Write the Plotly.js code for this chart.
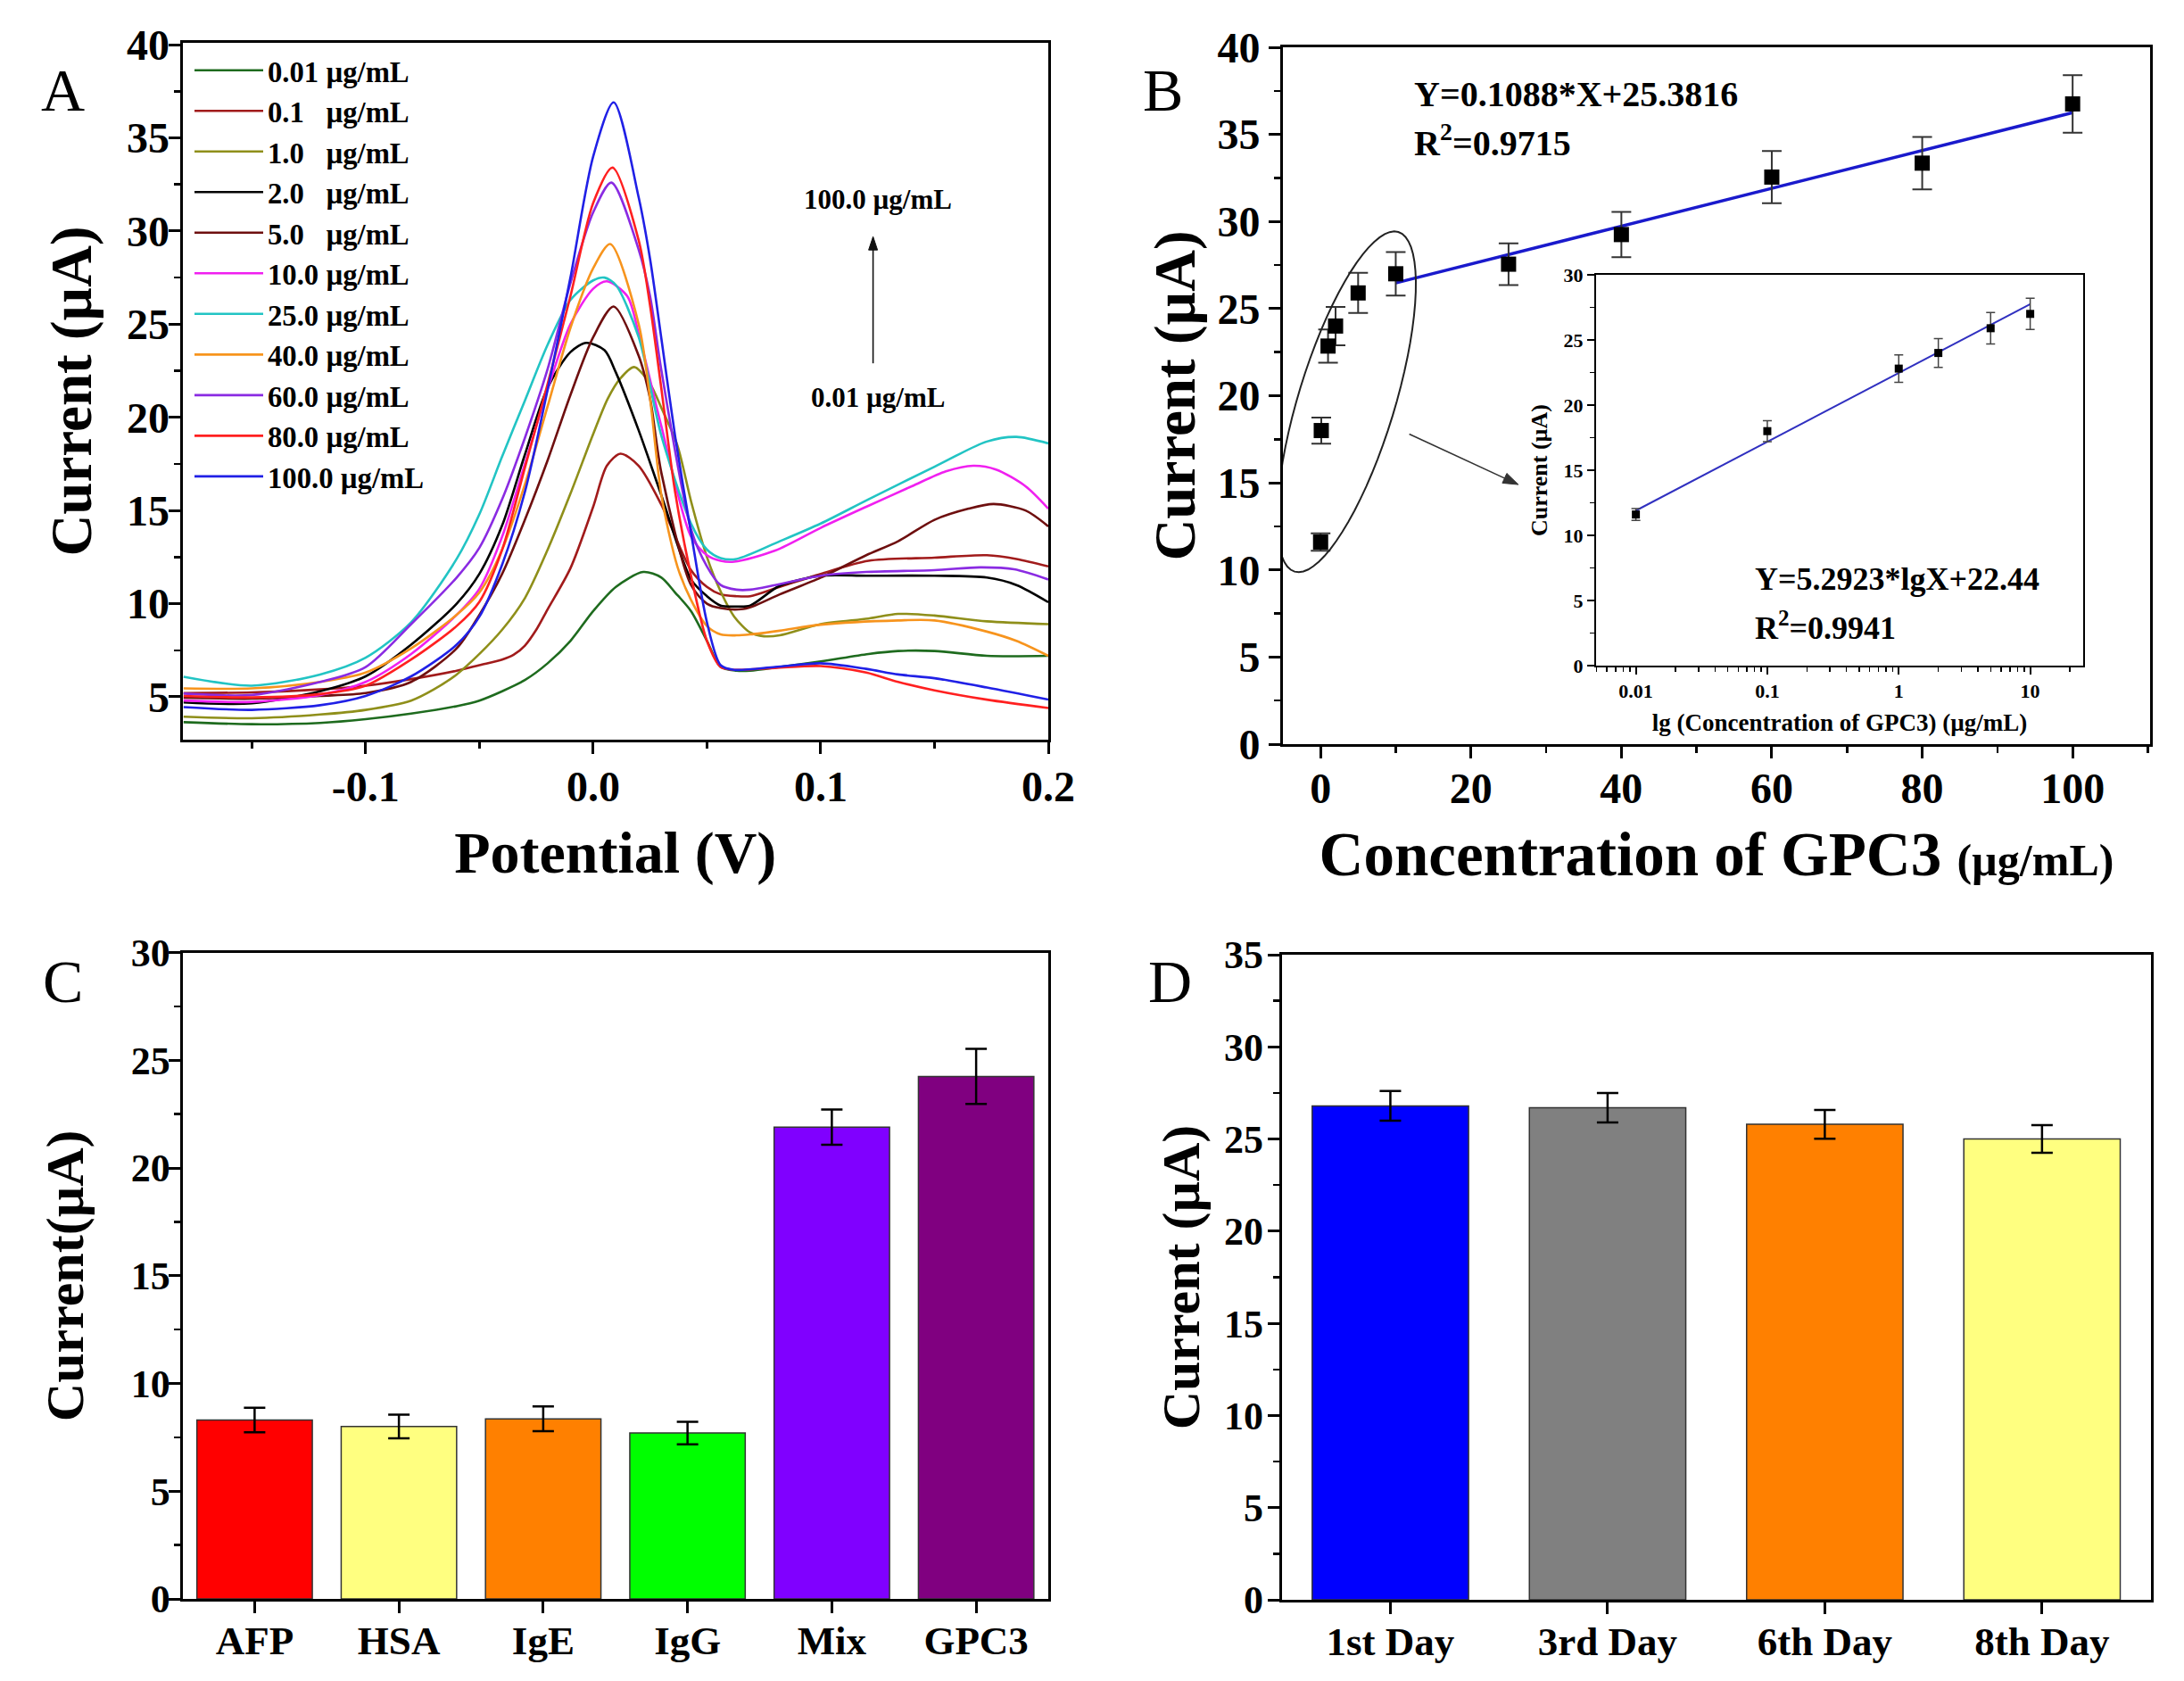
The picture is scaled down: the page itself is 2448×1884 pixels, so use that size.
<!DOCTYPE html>
<html><head><meta charset="utf-8">
<script src="https://cdn.plot.ly/plotly-3.0.1.min.js"></script>
<style>html,body{margin:0;padding:0;background:#fff}</style>
</head><body>
<div id="chart" style="width:2448px;height:1884px"></div>
<script>
// ================= Panel A: DPV curves =================
const labelsA = ["0.01 µg/mL", "0.1\u00a0\u00a0\u00a0µg/mL", "1.0\u00a0\u00a0\u00a0µg/mL", "2.0\u00a0\u00a0\u00a0µg/mL",
  "5.0\u00a0\u00a0\u00a0µg/mL", "10.0 µg/mL", "25.0 µg/mL", "40.0 µg/mL", "60.0 µg/mL", "80.0 µg/mL", "100.0 µg/mL"];
const colorsA = ["#1e6b1e", "#a11b1b", "#8f8f1a", "#000000", "#6e0f0f", "#f020f0", "#22c4c4", "#f7941d", "#8a2be2", "#ff2020", "#2020e6"];
const tickValsA = [-0.1, 0, 0.1, 0.2];
const tickTextA = ["-0.1", "0.0", "0.1", "0.2"];

const vA001 = [-0.18,-0.15,-0.12,-0.10,-0.08,-0.06,-0.05,-0.04,-0.03,-0.02,-0.01,0.0,0.01,0.022,0.03,0.036,0.043,0.05,0.056,0.063,0.069,0.082,0.10,0.121,0.134,0.15,0.173,0.20];
const iA001 = [3.64,3.53,3.6,3.8,4.1,4.5,4.8,5.3,5.9,6.8,8.0,9.6,10.9,11.7,11.4,10.6,9.6,8.0,6.6,6.4,6.4,6.6,6.9,7.3,7.46,7.46,7.2,7.2];

const vA01 = [-0.18,-0.15,-0.12,-0.10,-0.08,-0.06,-0.05,-0.04,-0.035,-0.03,-0.025,-0.02,-0.01,0.0,0.006,0.012,0.02,0.03,0.043,0.05,0.056,0.063,0.069,0.082,0.10,0.121,0.15,0.173,0.186,0.20];
const iA01 = [5.2,5.24,5.4,5.6,5.95,6.4,6.7,7.0,7.25,7.75,8.6,9.7,11.9,15.2,17.4,18.05,17.4,15.3,11.8,10.9,10.5,10.4,10.4,10.9,11.6,12.3,12.47,12.6,12.4,12.0];

const vA1 = [-0.18,-0.15,-0.12,-0.10,-0.08,-0.07,-0.06,-0.05,-0.04,-0.03,-0.02,-0.01,0.0,0.0064,0.012,0.018,0.025,0.03,0.037,0.043,0.05,0.056,0.062,0.069,0.075,0.082,0.10,0.121,0.134,0.15,0.173,0.20];
const iA1 = [3.93,3.85,4.05,4.3,4.8,5.4,6.2,7.3,8.6,10.3,12.9,15.9,19.1,21.0,22.1,22.7,21.8,20.5,18.5,15.5,12.5,10.66,9.3,8.45,8.25,8.3,8.9,9.2,9.45,9.36,9.05,8.9];

const vA2 = [-0.18,-0.15,-0.12,-0.10,-0.08,-0.06,-0.05,-0.04,-0.03,-0.02,-0.01,-0.003,0.005,0.01,0.02,0.03,0.043,0.05,0.056,0.063,0.069,0.082,0.10,0.12,0.15,0.173,0.186,0.20];
const iA2 = [4.7,4.65,5.3,6.1,7.8,10.0,11.6,14.2,18.0,21.6,23.5,24.0,23.6,22.4,19.3,15.8,11.3,10.4,9.9,9.85,9.9,10.96,11.5,11.5,11.5,11.4,11.0,10.08];

const vA5 = [-0.18,-0.15,-0.12,-0.10,-0.08,-0.06,-0.05,-0.04,-0.03,-0.02,-0.01,0.0,0.009,0.02,0.025,0.03,0.043,0.05,0.056,0.065,0.07,0.082,0.10,0.12,0.134,0.15,0.165,0.176,0.19,0.20];
const iA5 = [4.95,4.9,5.05,5.2,5.8,7.6,9.4,11.6,14.5,17.7,21.2,24.3,25.95,23.3,21.0,17.0,11.0,10.0,9.76,9.7,9.85,10.5,11.4,12.6,13.35,14.5,15.1,15.35,15.0,14.15];

const vA10 = [-0.18,-0.15,-0.12,-0.10,-0.08,-0.06,-0.05,-0.04,-0.03,-0.02,-0.01,0.0,0.006,0.015,0.02,0.03,0.043,0.05,0.056,0.062,0.08,0.10,0.12,0.14,0.155,0.167,0.177,0.19,0.20];
const iA10 = [4.8,4.73,5.1,5.8,7.3,9.4,10.8,13.6,17.5,21.5,25.0,26.9,27.3,26.5,24.5,19.5,13.6,12.6,12.3,12.25,12.85,14.07,15.2,16.3,17.1,17.4,17.2,16.3,15.1];

const vA25 = [-0.18,-0.15,-0.12,-0.10,-0.08,-0.06,-0.05,-0.04,-0.03,-0.02,-0.01,0.0,0.005,0.01,0.02,0.03,0.043,0.05,0.056,0.063,0.082,0.10,0.121,0.15,0.173,0.186,0.20];
const iA25 = [6.08,5.6,6.2,7.1,9.0,12.4,14.8,17.9,20.9,23.9,26.3,27.35,27.5,27.1,24.3,19.0,14.3,12.9,12.45,12.4,13.35,14.3,15.6,17.35,18.7,18.95,18.6];

const vA40 = [-0.18,-0.15,-0.12,-0.10,-0.08,-0.06,-0.05,-0.04,-0.03,-0.02,-0.01,0.0,0.0075,0.02,0.025,0.03,0.037,0.043,0.05,0.056,0.063,0.069,0.082,0.10,0.134,0.15,0.173,0.186,0.20];
const iA40 = [5.45,5.45,5.8,6.3,7.6,9.4,10.6,12.9,16.4,20.6,24.8,28.0,29.3,25.0,21.0,15.8,12.0,10.2,8.8,8.35,8.3,8.35,8.55,8.87,9.1,9.1,8.5,8.0,7.2];

const vA60 = [-0.18,-0.15,-0.12,-0.10,-0.08,-0.06,-0.05,-0.04,-0.03,-0.02,-0.01,0.0,0.008,0.02,0.025,0.03,0.043,0.05,0.056,0.063,0.069,0.08,0.10,0.12,0.15,0.17,0.185,0.20];
const iA60 = [5.17,5.1,5.8,6.6,8.9,11.4,13.0,15.6,18.9,22.6,27.2,31.0,32.6,29.0,26.5,22.5,14.0,12.0,11.0,10.75,10.75,11.0,11.5,11.7,11.8,11.95,11.85,11.3];

const vA80 = [-0.18,-0.15,-0.12,-0.10,-0.08,-0.06,-0.05,-0.04,-0.03,-0.02,-0.01,0.0,0.0085,0.02,0.025,0.03,0.036,0.043,0.05,0.056,0.062,0.08,0.10,0.12,0.134,0.15,0.173,0.20];
const iA80 = [5.05,4.97,5.15,5.6,7.0,8.8,10.1,12.9,17.3,21.8,26.5,31.5,33.4,29.5,26.0,21.5,16.0,11.5,8.0,6.6,6.45,6.55,6.65,6.3,5.8,5.35,4.85,4.4];

const vA100 = [-0.18,-0.15,-0.12,-0.10,-0.08,-0.06,-0.05,-0.04,-0.03,-0.02,-0.01,0.0,0.009,0.02,0.025,0.03,0.036,0.043,0.05,0.056,0.062,0.08,0.10,0.12,0.134,0.15,0.173,0.20];
const iA100 = [4.45,4.3,4.55,5.05,6.1,7.8,9.3,12.1,16.0,21.5,27.5,34.0,36.9,31.8,28.5,24.2,19.0,13.8,9.0,6.7,6.45,6.6,6.8,6.5,6.2,6.0,5.5,4.85];

const curvesV = [vA001, vA01, vA1, vA2, vA5, vA10, vA25, vA40, vA60, vA80, vA100];
const curvesI = [iA001, iA01, iA1, iA2, iA5, iA10, iA25, iA40, iA60, iA80, iA100];

// ================= Panel B: calibration =================
const concB = [0.01, 0.1, 1, 2, 5, 10, 25, 40, 60, 80, 100];
const currB = [11.6, 18.0, 22.85, 24.0, 25.9, 27.0, 27.55, 29.25, 32.55, 33.35, 36.75];
const errB  = [0.5, 0.75, 0.95, 1.1, 1.15, 1.25, 1.2, 1.3, 1.5, 1.5, 1.65];
const fitLinX = [10, 100];
const fitLinY = [26.47, 36.25];
// inset (log scale)
const concInset = [0.01, 0.1, 1, 2, 5, 10];
const currInset = [11.6, 18.0, 22.8, 24.0, 25.9, 27.0];
const errInset  = [0.45, 0.8, 1.05, 1.1, 1.2, 1.2];
const fitLogX = [0.01, 10];
const fitLogY = [11.9, 27.75];

// ================= Panel C: selectivity =================
const catC = ["AFP", "HSA", "IgE", "IgG", "Mix", "GPC3"];
const valC = [8.3, 8.0, 8.36, 7.7, 21.9, 24.25];
const errC = [0.57, 0.55, 0.57, 0.52, 0.82, 1.28];
const colC = ["#ff0000", "#ffff80", "#ff8000", "#00ff00", "#8000ff", "#800080"];

// ================= Panel D: stability =================
const catD = ["1st Day", "3rd Day", "6th Day", "8th Day"];
const valD = [26.8, 26.7, 25.8, 25.0];
const errD = [0.8, 0.8, 0.78, 0.75];
const colD = ["#0000ff", "#808080", "#ff8000", "#ffff80"];

// ---------------------------------------------------------
const W = 2448, H = 1884;
const FONT = "Liberation Serif, Times New Roman, serif";
const px = v => v / W;
const py = v => 1 - v / H;
const tf = (size, w) => ({family: FONT, size: size, color: "#000", weight: w || "bold"});
const minorTicks = extra => Object.assign({ticks: "outside", ticklen: 7, tickwidth: 2.5, tickcolor: "#000"}, extra);

function axisBase(extra) {
  return Object.assign({
    showline: true, linewidth: 3, linecolor: "#000", mirror: true,
    ticks: "outside", ticklen: 13, tickwidth: 3, tickcolor: "#000",
    showgrid: false, zeroline: false, fixedrange: true,
    tickfont: tf(48)
  }, extra);
}

const traces = [];
curvesV.forEach((v, k) => {
  traces.push({
    type: "scatter", mode: "lines", x: v, y: curvesI[k], name: labelsA[k],
    xaxis: "x", yaxis: "y", legendgroup: "g" + k,
    line: {color: colorsA[k], width: 2.6, shape: "spline", smoothing: 0.8},
    hoverinfo: "skip"
  });
});

traces.push({
  type: "scatter", mode: "lines", x: fitLinX, y: fitLinY, xaxis: "x2", yaxis: "y2",
  line: {color: "#1a1acc", width: 3.5}, showlegend: false, hoverinfo: "skip"
});
traces.push({
  type: "scatter", mode: "markers", x: concB, y: currB, xaxis: "x2", yaxis: "y2",
  marker: {symbol: "square", size: 17, color: "#000"},
  error_y: {type: "data", array: errB, color: "#333", thickness: 2, width: 11},
  showlegend: false, hoverinfo: "skip"
});
traces.push({
  type: "scatter", mode: "lines", x: fitLogX, y: fitLogY, xaxis: "x3", yaxis: "y3",
  line: {color: "#3030c0", width: 2}, showlegend: false, hoverinfo: "skip"
});
traces.push({
  type: "scatter", mode: "markers", x: concInset, y: currInset, xaxis: "x3", yaxis: "y3",
  marker: {symbol: "square", size: 9, color: "#000"},
  error_y: {type: "data", array: errInset, color: "#444", thickness: 1.5, width: 5},
  showlegend: false, hoverinfo: "skip"
});
traces.push({
  type: "bar", x: catC, y: valC, xaxis: "x4", yaxis: "y4", width: 0.8,
  marker: {color: colC, line: {color: "#333", width: 1.5}},
  error_y: {type: "data", array: errC, color: "#000", thickness: 2.5, width: 12},
  showlegend: false, hoverinfo: "skip"
});
traces.push({
  type: "bar", x: catD, y: valD, xaxis: "x5", yaxis: "y5", width: 0.72,
  marker: {color: colD, line: {color: "#333", width: 1.5}},
  error_y: {type: "data", array: errD, color: "#000", thickness: 2.5, width: 12},
  showlegend: false, hoverinfo: "skip"
});

// axis geometry (px)
const axA = {l: 204.5, r: 1175, t: 48, b: 829};
const axB = {l: 1438, r: 2410, t: 53, b: 834};
const axI = {l: 1789, r: 2335, t: 308, b: 746};
const axC = {l: 204.5, r: 1175, t: 1067.6, b: 1792};
const axD = {l: 1436.7, r: 2410.6, t: 1070, b: 1793};
const rangeAx = [-0.1805, 0.2], rangeAy = [2.7, 40.1];
const rangeBx = [-5.0, 110.3], rangeBy = [0, 40];

const pxPerAx = (axA.r - axA.l) / (rangeAx[1] - rangeAx[0]);
const pxPerAy = (axA.b - axA.t) / (rangeAy[1] - rangeAy[0]);
const pxPerBx = (axB.r - axB.l) / (rangeBx[1] - rangeBx[0]);
const pxPerBy = (axB.b - axB.t) / (rangeBy[1] - rangeBy[0]);

// ellipse in panel B (decorative), built in data units
const ell = {cx: 3.45, cy: 19.65, a: 199, b: 54, ang: 73 * Math.PI / 180};
let ellPath = "";
for (let i = 0; i <= 72; i++) {
  const t = i / 72 * 2 * Math.PI;
  const dx = ell.a * Math.cos(t) * Math.cos(ell.ang) - ell.b * Math.sin(t) * Math.sin(ell.ang);
  const dy = ell.a * Math.cos(t) * Math.sin(ell.ang) + ell.b * Math.sin(t) * Math.cos(ell.ang);
  ellPath += (i === 0 ? "M" : "L") + (ell.cx + dx / pxPerBx).toFixed(3) + "," + (ell.cy + dy / pxPerBy).toFixed(3);
}
ellPath += "Z";

// arrow (shaft + filled head) as shapes in data units
function arrowShapes(tail, head, xref, yref, kx, ky, color, hl, hw) {
  const dxp = (head[0] - tail[0]) * kx, dyp = (head[1] - tail[1]) * ky;
  const len = Math.hypot(dxp, dyp), ux = dxp / len, uy = dyp / len;
  const bx = -hl * ux, by = -hl * uy;
  const nx = -uy * hw, ny = ux * hw;
  const pt = (ox, oy) => (head[0] + ox / kx).toFixed(5) + "," + (head[1] + oy / ky).toFixed(4);
  return [
    {type: "line", xref: xref, yref: yref, x0: tail[0], y0: tail[1],
      x1: head[0] - (hl * 0.8 * ux) / kx, y1: head[1] - (hl * 0.8 * uy) / ky, line: {color: color, width: 1.6}},
    {type: "path", xref: xref, yref: yref, fillcolor: color, line: {color: color, width: 1},
      path: "M" + pt(0, 0) + "L" + pt(bx + nx, by + ny) + "L" + pt(bx - nx, by - ny) + "Z"}
  ];
}

const txt = (x, y, s, size, extra) => Object.assign({
  xref: "paper", yref: "paper", x: px(x), y: py(y), text: s, showarrow: false,
  xanchor: "center", yanchor: "middle", font: tf(size)
}, extra);

const layout = {
  width: W, height: H, margin: {l: 0, r: 0, t: 0, b: 0},
  paper_bgcolor: "#fff", plot_bgcolor: "rgba(0,0,0,0)",
  font: {family: FONT, color: "#000"},
  showlegend: true,
  legend: {
    x: px(213), y: py(51), xanchor: "left", yanchor: "top",
    bgcolor: "rgba(0,0,0,0)", borderwidth: 0, itemwidth: 77,
    traceorder: "normal", tracegroupgap: 0,
    font: tf(32.7)
  },
  xaxis: axisBase({
    domain: [px(axA.l), px(axA.r)], anchor: "y", range: rangeAx,
    tickmode: "array", tickvals: tickValsA, ticktext: tickTextA, ticklabelstandoff: -5,
    minor: minorTicks({tickmode: "array", tickvals: [-0.15, -0.05, 0.05, 0.15]}),
    title: {text: "Potential (V)", standoff: 26, font: tf(66)}
  }),
  yaxis: axisBase({
    domain: [py(axA.b), py(axA.t)], anchor: "x", range: rangeAy,
    dtick: 5, tick0: 0, ticklabelstandoff: -11,
    minor: minorTicks({dtick: 2.5, tick0: 0}),
    title: {text: "Current (µA)", standoff: 19, font: tf(65)}
  }),
  xaxis2: axisBase({
    domain: [px(axB.l), px(axB.r)], anchor: "y2", range: rangeBx,
    dtick: 20, tick0: 0, ticklabelstandoff: -8,
    minor: minorTicks({dtick: 10, tick0: 0}),
    title: {text: "Concentration of GPC3 <span style=\"font-size:50px\">(µg/mL)</span>", standoff: 25, font: tf(69)}
  }),
  yaxis2: axisBase({
    domain: [py(axB.b), py(axB.t)], anchor: "x2", range: rangeBy,
    dtick: 5, tick0: 0,
    minor: minorTicks({dtick: 2.5, tick0: 0}),
    title: {text: "Current (µA)", standoff: 4, font: tf(65)}
  }),
  xaxis3: axisBase({
    domain: [px(axI.l), px(axI.r)], anchor: "y3", type: "log",
    range: [Math.log10(0.00498), Math.log10(25.3)],
    dtick: 1, linewidth: 2, tickwidth: 2, ticklen: 8,
    tickfont: tf(22),
    minor: {dtick: "D1", ticks: "outside", ticklen: 5, tickwidth: 1.5, tickcolor: "#000"},
    title: {text: "lg (Concentration of GPC3) (µg/mL)", standoff: 14, font: tf(27)}
  }),
  yaxis3: axisBase({
    domain: [py(axI.b), py(axI.t)], anchor: "x3", range: [0, 30],
    dtick: 5, tick0: 0, linewidth: 2, tickwidth: 2, ticklen: 8,
    tickfont: tf(22),
    minor: {dtick: 2.5, tick0: 0, ticks: "outside", ticklen: 5, tickwidth: 1.5, tickcolor: "#000"},
    title: {text: "Current (µA)", standoff: 10, font: tf(26)}
  }),
  xaxis4: axisBase({
    domain: [px(axC.l), px(axC.r)], anchor: "y4", type: "category", range: [-0.5, 5.5],
    tickfont: tf(45), ticklabelstandoff: -8
  }),
  yaxis4: axisBase({
    domain: [py(axC.b), py(axC.t)], anchor: "x4", range: [0, 30],
    dtick: 5, tick0: 0, ticklabelstandoff: -11,
    tickfont: tf(44),
    minor: minorTicks({dtick: 2.5, tick0: 0}),
    title: {text: "Current(µA)", standoff: 34, font: tf(60)}
  }),
  xaxis5: axisBase({
    domain: [px(axD.l), px(axD.r)], anchor: "y5", type: "category", range: [-0.5, 3.5],
    tickfont: tf(45), ticklabelstandoff: -8
  }),
  yaxis5: axisBase({
    domain: [py(axD.b), py(axD.t)], anchor: "x5", range: [0, 35],
    dtick: 5, tick0: 0, ticklabelstandoff: -4,
    tickfont: tf(44),
    minor: minorTicks({dtick: 2.5, tick0: 0}),
    title: {text: "Current (µA)", standoff: 8, font: tf(60)}
  }),
  shapes: [
    {type: "path", xref: "x2", yref: "y2", path: ellPath, line: {color: "#222", width: 2}}
  ].concat(
    arrowShapes([0.123, 22.9], [0.123, 29.7], "x", "y", pxPerAx, pxPerAy, "#111", 15, 5),
    arrowShapes([11.8, 17.8], [26.3, 14.9], "x2", "y2", pxPerBx, pxPerBy, "#333", 17, 6)
  ),
  annotations: [
    // panel letters
    txt(70, 101, "A", 68, {font: tf(68, "normal")}),
    txt(1303, 101, "B", 68, {font: tf(68, "normal")}),
    txt(70, 1100, "C", 68, {font: tf(68, "normal")}),
    txt(1311, 1100, "D", 68, {font: tf(68, "normal")}),
    // panel A labels
    {xref: "x", yref: "y", x: 0.125, y: 31.7, text: "100.0 µg/mL", showarrow: false, font: tf(31)},
    {xref: "x", yref: "y", x: 0.125, y: 21.05, text: "0.01 µg/mL", showarrow: false, font: tf(31)},
    // panel B equations
    txt(1583, 106, "Y=0.1088*X+25.3816", 40, {xanchor: "left"}),
    txt(1583, 158, "R<sup>2</sup>=0.9715", 40, {xanchor: "left"}),
    txt(1965, 649, "Y=5.2923*lgX+22.44", 36, {xanchor: "left"}),
    txt(1965, 701, "R<sup>2</sup>=0.9941", 36, {xanchor: "left"})
  ]
};

Plotly.newPlot("chart", traces, layout, {staticPlot: true, displayModeBar: false});
</script>
</body></html>
